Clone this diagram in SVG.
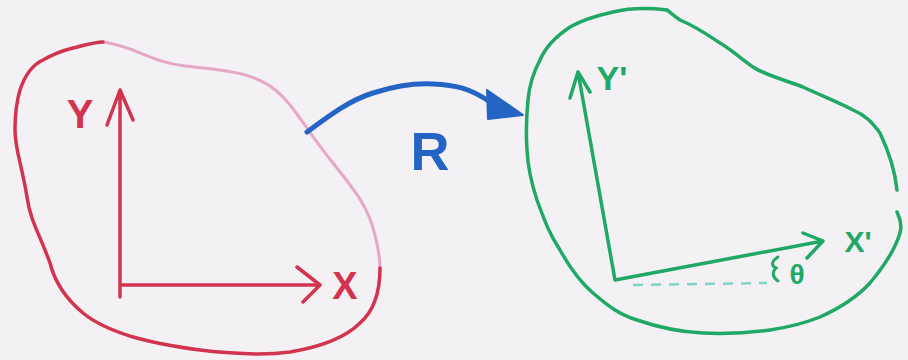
<svg xmlns="http://www.w3.org/2000/svg" width="908" height="360" viewBox="0 0 908 360">
<style>
.red{fill:none;stroke:#d2344f;stroke-width:3.5;stroke-linecap:round;stroke-linejoin:round}
.pink{fill:none;stroke:#e6a6c6;stroke-width:3;stroke-linecap:round}
.grn{fill:none;stroke:#1fa866;stroke-width:3.5;stroke-linecap:round;stroke-linejoin:round}
.lbl{font-family:"Liberation Sans",Arial,sans-serif;font-weight:bold}
</style>
<rect width="908" height="360" fill="#f3f1f3"/>
<g id="frame-xy">
<path class="pink" d="M103,42 C135,46 150,62 185,66 C225,70 260,72 283,97 C300,115 310,135 333,163 C352,187 368,205 375,235 C380,255 380,265 380,268"/>
<path class="red" d="M380,268 C380,290 375,310 360,323 C345,338 320,347 290,352 C260,356 225,353 200,350 C170,346 150,342 133,337 C110,330 95,323 83,313 C65,298 55,283 50,263 C40,235 30,220 27,197 C22,165 15,150 15,130 C15,110 17,100 20,90 C25,75 32,65 43,60 C55,53 65,50 73,48 C85,45 95,42 103,42"/>
<path class="red" d="M120,297 L120,90 M107,125 L120,90 L133,120 M120,285 L320,285 M297,267 L320,285 L303,302"/>
<text class="lbl" x="80" y="128" font-size="40" fill="#d2344f" text-anchor="middle">Y</text>
<text class="lbl" x="345" y="299" font-size="38" fill="#d2344f" text-anchor="middle">X</text>
</g>
<g id="frame-rotated">
<path class="grn" d="M667,10 C650,8 630,8 613,12 C595,16 582,20 570,27 C555,37 545,48 540,60 C532,75 529,88 528,100 C526,120 526,135 527,150 C528,170 532,185 537,200 C545,222 550,235 560,250 C570,268 580,282 593,293 C608,306 620,315 637,320 C660,328 680,332 703,333 C725,334 748,333 770,330 C790,327 805,323 820,317 C840,308 858,296 870,283 C885,265 895,250 900,233 C903,222 898,215 897,212"/>
<path class="grn" d="M897,190 C895,170 888,150 880,133 C872,122 865,115 853,110 C838,102 820,95 803,87 C785,80 765,75 753,67 C740,58 732,50 720,43 C705,33 695,26 680,20 C674,16 670,12 667,10"/>
<path class="grn" d="M615,280 L578,72 M570,98 L578,72 L590,92 M615,280 L823,241 M803,233 L823,241 L807,258"/>
<path fill="none" stroke="#7fd4c8" stroke-width="2.5" stroke-dasharray="10,8" d="M633,285 L767,283"/>
<path fill="none" stroke="#1fa866" stroke-width="3" stroke-linecap="round" d="M778,257 C770,262 772,266 776,268 C772,272 772,277 778,281"/>
<text class="lbl" x="797" y="284" font-size="28" fill="#1fa866" text-anchor="middle">θ</text>
<text class="lbl" x="612" y="90" font-size="34" fill="#1fa866" text-anchor="middle">Y'</text>
<text class="lbl" x="858" y="252" font-size="30" fill="#1fa866" text-anchor="middle">X'</text>
</g>
<g id="connectors">
<path fill="none" stroke="#2464c4" stroke-width="5" stroke-linecap="round" d="M307,132 C330,115 350,100 373,93 C395,86 415,83 433,84 C455,85 470,88 490,102"/>
<path fill="#2464c4" stroke="#2464c4" stroke-width="2" stroke-linejoin="round" d="M487,90 L523,115 L488,119 Z"/>
<text class="lbl" x="430" y="170" font-size="54" fill="#2464c4" text-anchor="middle">R</text>
</g>
</svg>
